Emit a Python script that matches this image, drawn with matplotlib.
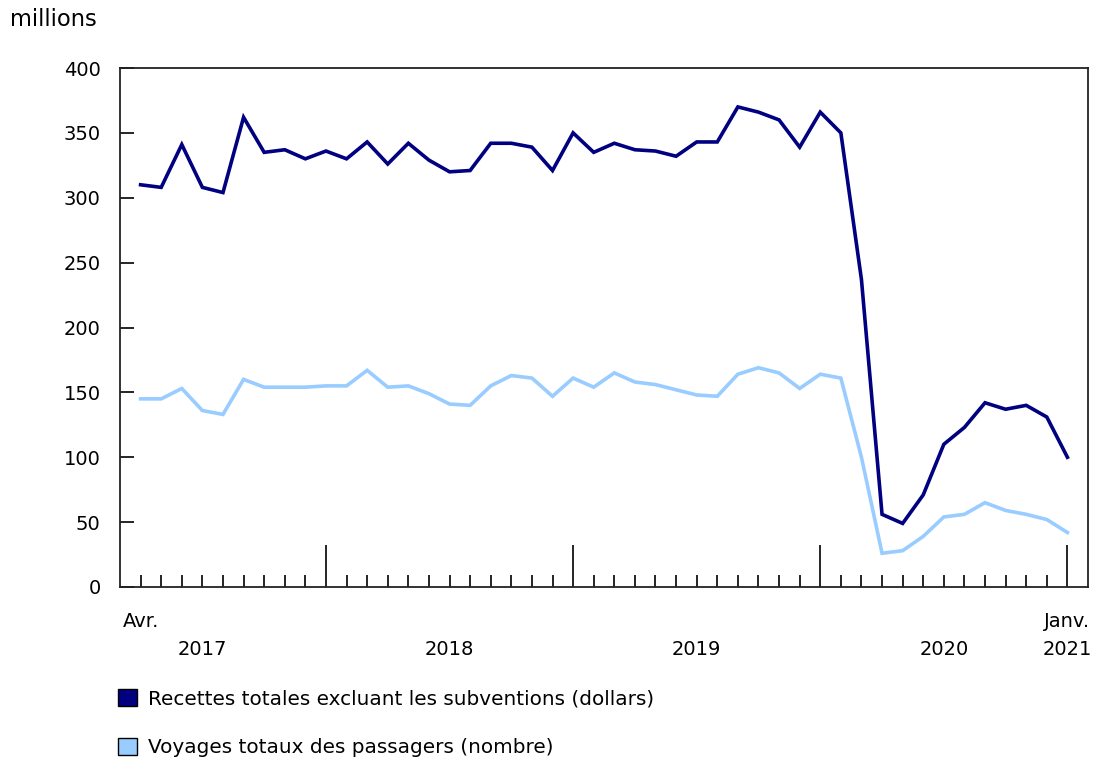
import matplotlib
matplotlib.use("Agg")
import matplotlib.pyplot as plt
from matplotlib.patches import Patch
from matplotlib.ticker import FixedLocator

# Monthly, April 2017 .. January 2021 (46 months)
revenue = [310, 308, 341, 308, 304, 362, 335, 337, 330,
           336, 330, 343, 326, 342, 329, 320, 321, 342, 342, 339, 321,
           350, 335, 342, 337, 336, 332, 343, 343, 370, 366, 360, 339,
           366, 350, 237, 56, 49, 71, 110, 123, 142, 137, 140, 131,
           100]
trips = [145, 145, 153, 136, 133, 160, 154, 154, 154,
         155, 155, 167, 154, 155, 149, 141, 140, 155, 163, 161, 147,
         161, 154, 165, 158, 156, 152, 148, 147, 164, 169, 165, 153,
         164, 161, 100, 26, 28, 39, 54, 56, 65, 59, 56, 52,
         42]
series_names = ["Recettes totales excluant les subventions (dollars)",
                "Voyages totaux des passagers (nombre)"]
yticks = [0, 50, 100, 150, 200, 250, 300, 350, 400]
year_labels = ["2017", "2018", "2019", "2020", "2021"]
year_label_pos = [3, 15, 27, 39, 45]
month_start_label = "Avr."
month_end_label = "Janv."
major_months = [9, 21, 33, 45]

dark = "#000080"
light = "#99CCFF"
fs = 14

fig = plt.figure(figsize=(10.95, 7.58), dpi=100)
ax = fig.add_axes([120/1095, 1-587/758, (1088-120)/1095, (587-68)/758])

x = list(range(len(revenue)))
ax.plot(x, revenue, color=dark, lw=2.6, solid_joinstyle="miter")
ax.plot(x, trips, color=light, lw=2.6, solid_joinstyle="miter")

ax.set_xlim(-1, 46)
ax.set_ylim(0, 400)
ax.set_yticks(yticks)
ax.tick_params(axis="y", direction="in", length=10, width=1.2, pad=14, labelsize=fs)

ax.xaxis.set_major_locator(FixedLocator(major_months))
ax.xaxis.set_minor_locator(FixedLocator([i for i in x if i not in major_months]))
ax.tick_params(axis="x", which="major", direction="in", length=30, width=1.2, labelbottom=False)
ax.tick_params(axis="x", which="minor", direction="in", length=9, width=1.2)

for s in ax.spines.values():
    s.set_linewidth(1.3)
    s.set_color("#222222")

tr = ax.get_xaxis_transform()
ax.text(0, -0.066, month_start_label, transform=tr, ha="center", va="center", fontsize=fs)
ax.text(45, -0.066, month_end_label, transform=tr, ha="center", va="center", fontsize=fs)
for lab, pos in zip(year_labels, year_label_pos):
    ax.text(pos, -0.121, lab, transform=tr, ha="center", va="center", fontsize=fs)

fig.text(10/1095, 1-19/758, "millions", ha="left", va="center", fontsize=16.3)

handles = [Patch(facecolor=dark, edgecolor="black", linewidth=1.0),
           Patch(facecolor=light, edgecolor="black", linewidth=1.0)]
fig.legend(handles, series_names, loc="upper left",
           bbox_to_anchor=(118/1095, 1-689/758), frameon=False, fontsize=14.4,
           handlelength=0.95, handleheight=0.95, handletextpad=0.55,
           labelspacing=1.45, borderaxespad=0, borderpad=0)

fig.savefig("out.png", dpi=100)
